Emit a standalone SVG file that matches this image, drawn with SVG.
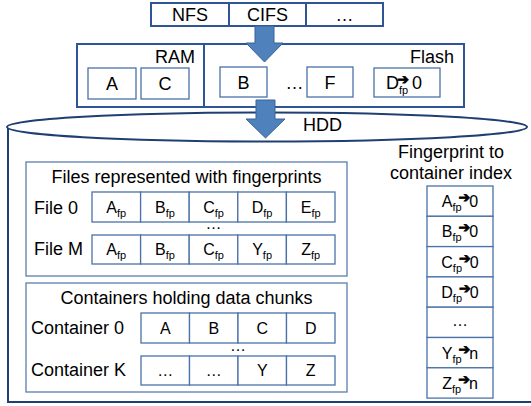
<svg xmlns="http://www.w3.org/2000/svg" width="531" height="406" viewBox="0 0 531 406">
<style>
text{font-family:"Liberation Sans",Arial,sans-serif;fill:#000;}
.t18{font-size:18px;}
.t16{font-size:16px;}
.c{text-anchor:middle;}
.e{text-anchor:end;}
.sub{font-size:11px;}
.arr{font-family:"DejaVu Sans",sans-serif;font-size:14px;font-weight:bold;stroke:#000;stroke-width:0.7;}
.outer{fill:#fff;stroke:#2F5597;stroke-width:2;}
.cell{fill:#fff;stroke:#4A72A8;stroke-width:1.3;}
.panel{fill:#fff;stroke:#5A7DAE;stroke-width:1.3;}
.hdd{fill:#fff;stroke:#1F3F73;stroke-width:2;}
.barrow{fill:#4F81BD;stroke:#3A6396;stroke-width:1;}
</style>

<g id="hdd">
  <path class="hdd" d="M8,127 V402 H533 V127" />
  <ellipse class="hdd" cx="267" cy="127" rx="260" ry="14.5"/>
  <text class="t18" x="303" y="131">HDD</text>
</g>

<g id="protocols">
  <rect class="outer" x="151" y="3" width="232" height="23"/>
  <line x1="229" y1="3" x2="229" y2="26" stroke="#2F5597" stroke-width="2"/>
  <line x1="306" y1="3" x2="306" y2="26" stroke="#2F5597" stroke-width="2"/>
  <text class="t18 c" x="190" y="21">NFS</text>
  <text class="t18 c" x="267.5" y="21">CIFS</text>
  <text class="t18 c" x="344.5" y="21">…</text>
</g>

<g id="cache">
  <rect class="outer" x="77" y="44" width="387" height="63"/>
  <line x1="204" y1="44" x2="204" y2="107" stroke="#2F5597" stroke-width="2"/>
  <text class="t18 e" x="195" y="63">RAM</text>
  <text class="t18 e" x="454" y="63">Flash</text>
  <rect class="cell" x="88" y="68" width="48" height="31"/>
  <text class="t18 c" x="112" y="90">A</text>
  <rect class="cell" x="141" y="68" width="48" height="31"/>
  <text class="t18 c" x="165" y="90">C</text>
  <rect class="cell" x="220" y="67" width="47" height="30"/>
  <text class="t18 c" x="243.5" y="89">B</text>
  <text class="t18 c" x="294.5" y="89">…</text>
  <rect class="cell" x="307" y="67" width="46" height="30"/>
  <text class="t18 c" x="330" y="89">F</text>
  <rect class="cell" x="374" y="68" width="66" height="29"/>
  <text class="t18" x="386" y="89">D<tspan class="sub" dy="5">fp</tspan><tspan class="arr" dx="-11" dy="-10">➔</tspan><tspan dx="3" dy="5">0</tspan></text>
</g>

<g id="files">
  <rect class="panel" x="26" y="162" width="321" height="114"/>
  <text class="t18 c" x="186.5" y="183">Files represented with fingerprints</text>
  <text class="t18" x="34" y="214">File 0</text>
  <text class="t18" x="34" y="255">File M</text>
  <g class="row">
    <rect class="cell" x="92" y="192" width="48.6" height="30"/>
    <rect class="cell" x="140.6" y="192" width="48.6" height="30"/>
    <rect class="cell" x="189.2" y="192" width="48.6" height="30"/>
    <rect class="cell" x="237.8" y="192" width="48.6" height="30"/>
    <rect class="cell" x="286.4" y="192" width="48.6" height="30"/>
    <text class="t16 c" x="116.3" y="213">A<tspan class="sub" dy="4">fp</tspan></text>
    <text class="t16 c" x="164.9" y="213">B<tspan class="sub" dy="4">fp</tspan></text>
    <text class="t16 c" x="213.5" y="213">C<tspan class="sub" dy="4">fp</tspan></text>
    <text class="t16 c" x="262.1" y="213">D<tspan class="sub" dy="4">fp</tspan></text>
    <text class="t16 c" x="310.7" y="213">E<tspan class="sub" dy="4">fp</tspan></text>
  </g>
  <text class="t16 c" x="213.5" y="229">…</text>
  <g class="row">
    <rect class="cell" x="92" y="235" width="48.6" height="29"/>
    <rect class="cell" x="140.6" y="235" width="48.6" height="29"/>
    <rect class="cell" x="189.2" y="235" width="48.6" height="29"/>
    <rect class="cell" x="237.8" y="235" width="48.6" height="29"/>
    <rect class="cell" x="286.4" y="235" width="48.6" height="29"/>
    <text class="t16 c" x="116.3" y="255">A<tspan class="sub" dy="4">fp</tspan></text>
    <text class="t16 c" x="164.9" y="255">B<tspan class="sub" dy="4">fp</tspan></text>
    <text class="t16 c" x="213.5" y="255">C<tspan class="sub" dy="4">fp</tspan></text>
    <text class="t16 c" x="262.1" y="255">Y<tspan class="sub" dy="4">fp</tspan></text>
    <text class="t16 c" x="310.7" y="255">Z<tspan class="sub" dy="4">fp</tspan></text>
  </g>
</g>

<g id="containers">
  <rect class="panel" x="26" y="283" width="321" height="109"/>
  <text class="t18 c" x="186.5" y="304">Containers holding data chunks</text>
  <text class="t18" x="31" y="334">Container 0</text>
  <text class="t18" x="31" y="376">Container K</text>
  <rect class="cell" x="141" y="313" width="48.5" height="30"/>
  <rect class="cell" x="189.5" y="313" width="48.5" height="30"/>
  <rect class="cell" x="238" y="313" width="48.5" height="30"/>
  <rect class="cell" x="286.5" y="313" width="48.5" height="30"/>
  <text class="t16 c" x="165.25" y="334">A</text>
  <text class="t16 c" x="213.75" y="334">B</text>
  <text class="t16 c" x="262.25" y="334">C</text>
  <text class="t16 c" x="310.75" y="334">D</text>
  <text class="t16 c" x="238" y="351">…</text>
  <rect class="cell" x="141" y="356" width="48.5" height="29"/>
  <rect class="cell" x="189.5" y="356" width="48.5" height="29"/>
  <rect class="cell" x="238" y="356" width="48.5" height="29"/>
  <rect class="cell" x="286.5" y="356" width="48.5" height="29"/>
  <text class="t16 c" x="165.25" y="376">…</text>
  <text class="t16 c" x="213.75" y="376">…</text>
  <text class="t16 c" x="262.25" y="376">Y</text>
  <text class="t16 c" x="310.75" y="376">Z</text>
</g>

<g id="index">
  <text class="t18 c" x="451" y="158">Fingerprint to</text>
  <text class="t18 c" x="451" y="179">container index</text>
  <rect class="cell" x="427" y="186" width="66" height="30.3"/>
  <rect class="cell" x="427" y="216.3" width="66" height="30.3"/>
  <rect class="cell" x="427" y="246.6" width="66" height="30.3"/>
  <rect class="cell" x="427" y="276.9" width="66" height="30.3"/>
  <rect class="cell" x="427" y="307.2" width="66" height="30.3"/>
  <rect class="cell" x="427" y="337.5" width="66" height="30.3"/>
  <rect class="cell" x="427" y="367.8" width="66" height="30.3"/>
  <text class="t16 c" x="460" y="207">A<tspan class="sub" dy="4">fp</tspan><tspan class="arr" dx="-3" dy="-9">➔</tspan><tspan dx="-1" dy="5">0</tspan></text>
  <text class="t16 c" x="460" y="237.3">B<tspan class="sub" dy="4">fp</tspan><tspan class="arr" dx="-3" dy="-9">➔</tspan><tspan dx="-1" dy="5">0</tspan></text>
  <text class="t16 c" x="460" y="267.6">C<tspan class="sub" dy="4">fp</tspan><tspan class="arr" dx="-3" dy="-9">➔</tspan><tspan dx="-1" dy="5">0</tspan></text>
  <text class="t16 c" x="460" y="297.9">D<tspan class="sub" dy="4">fp</tspan><tspan class="arr" dx="-3" dy="-9">➔</tspan><tspan dx="-1" dy="5">0</tspan></text>
  <text class="t16 c" x="460" y="326">…</text>
  <text class="t16 c" x="460" y="358.5">Y<tspan class="sub" dy="4">fp</tspan><tspan class="arr" dx="-3" dy="-9">➔</tspan><tspan dx="-1" dy="5">n</tspan></text>
  <text class="t16 c" x="460" y="388.8">Z<tspan class="sub" dy="4">fp</tspan><tspan class="arr" dx="-3" dy="-9">➔</tspan><tspan dx="-1" dy="5">n</tspan></text>
</g>

<g id="connectors">
  <polygon class="barrow" points="255,26 274,26 274,43 283,43 264.5,62 246,43 255,43"/>
  <polygon class="barrow" points="256,100 275,100 275,119 285,119 265.5,138 246,119 256,119"/>
</g>
</svg>
